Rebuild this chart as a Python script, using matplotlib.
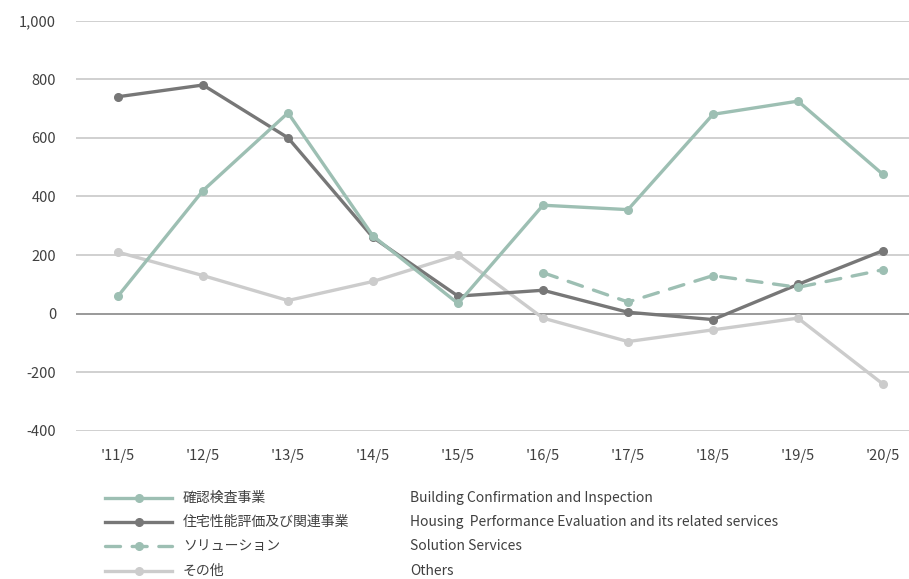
import matplotlib
matplotlib.use("Agg")
import matplotlib.pyplot as plt
from matplotlib.lines import Line2D

plt.rcParams['font.family'] = ['Noto Sans CJK JP', 'DejaVu Sans']

years = ["'11/5", "'12/5", "'13/5", "'14/5", "'15/5", "'16/5", "'17/5", "'18/5", "'19/5", "'20/5"]

kakunin = [60, 420, 685, 265, 35, 370, 355, 680, 725, 475]
jutaku = [740, 780, 600, 260, 60, 80, 5, -20, 100, 215]
solution_years = [5, 6, 7, 8, 9]
solution = [140, 40, 130, 90, 150]
others = [210, 130, 45, 110, 200, -15, -95, -55, -15, -240]

names_jp = ["確認検査事業", "住宅性能評価及び関連事業", "ソリューション", "その他"]
names_en = ["Building Confirmation and Inspection",
            "Housing  Performance Evaluation and its related services",
            "Solution Services", "Others"]

green = "#9dbfb3"
dark = "#777777"
light = "#cccccc"
txt = "#404040"
dash = (0, (4.5, 3.5))

fig = plt.figure(figsize=(9.09, 5.79), dpi=100)
ax = fig.add_axes([75.5 / 909, 1 - 431 / 579, 833.5 / 909, (431 - 20.5) / 579])

x = list(range(len(years)))
lw = 2.4
ms = 5.5
ax.plot(x, others, color=light, lw=lw, marker='o', ms=ms, zorder=3)
ax.plot(x, jutaku, color=dark, lw=lw, marker='o', ms=ms, zorder=4)
ax.plot(x, kakunin, color=green, lw=lw, marker='o', ms=ms, zorder=5)
ax.plot(solution_years, solution, color=green, lw=lw, ls=dash, dash_capstyle='round',
        marker='o', ms=ms, zorder=5)

ax.set_xlim(-0.5, (909 - 75.5) / 85 - 0.5)
ax.set_ylim(-400, 1000)
ax.set_yticks(range(-400, 1001, 200))
ax.set_yticklabels([f"{v:,}" for v in range(-400, 1001, 200)])
ax.set_xticks(x)
ax.set_xticklabels(years)

for v in range(-400, 1001, 200):
    ax.axhline(v, color="#888888" if v == 0 else "#c8c8c8", lw=1.2, zorder=1)

for s in ax.spines.values():
    s.set_visible(False)
ax.tick_params(length=0, labelsize=10.5, colors=txt)
ax.tick_params(axis='x', pad=13)
ax.tick_params(axis='y', pad=14)

# legend
styles = [(green, '-'), (dark, '-'), (green, dash), (light, '-')]
rows = [498, 522, 546, 571]
for (c, ls), yp, jp, en in zip(styles, rows, names_jp, names_en):
    yf = 1 - yp / 579
    fig.add_artist(Line2D([105 / 909, 172 / 909], [yf, yf], color=c, lw=lw, ls=ls,
                          dash_capstyle='round'))
    fig.add_artist(Line2D([138.5 / 909], [yf], color=c, marker='o', ms=ms))
    fig.text(183 / 909, yf, jp, fontsize=10, va='center', color=txt)
    fig.text(410 / 909, yf, en, fontsize=10, va='center', color=txt)

fig.savefig("out.png", dpi=100)
